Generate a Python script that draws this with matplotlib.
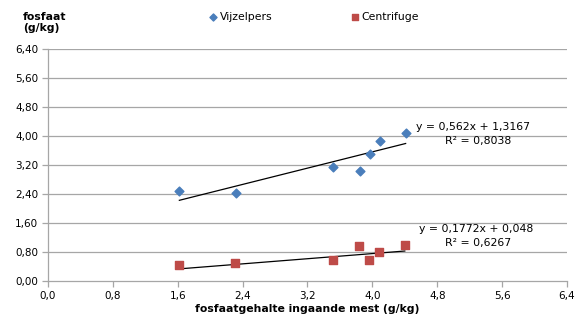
import numpy as np
import matplotlib.pyplot as plt

# data
vijzel_x = [1.62, 2.32, 3.51, 3.85, 3.97, 4.09, 4.41]
vijzel_y = [2.48, 2.43, 3.15, 3.03, 3.51, 3.87, 4.09]
centri_x = [1.61, 2.31, 3.51, 3.84, 3.96, 4.08, 4.40]
centri_y = [0.43, 0.50, 0.57, 0.96, 0.58, 0.81, 1.00]

# trendlines as printed on the chart
vijzel_fit = (0.562, 1.3167, 0.8038)
centri_fit = (0.1772, 0.048, 0.6267)

xticks = np.arange(0, 6.41, 0.8)
yticks = np.arange(0, 6.41, 0.8)

plt.rcParams['font.family'] = 'DejaVu Sans'
fig = plt.figure(figsize=(5.78, 3.21), dpi=100)
ax = fig.add_axes([0.083, 0.1246, 0.898, 0.7224])

grid_c = '#a6a6a6'
for yv in yticks[1:]:
    ax.axhline(yv, color=grid_c, lw=0.9, zorder=1)

ax.scatter(vijzel_x, vijzel_y, marker='D', s=20, color='#4a7ebb', zorder=3, label='Vijzelpers')
ax.scatter(centri_x, centri_y, marker='s', s=28, color='#be4b48', zorder=3, label='Centrifuge')

def fmt(v):
    return ('%g' % v).replace('.', ',')

for xs, (a, b, r2) in [(vijzel_x, vijzel_fit), (centri_x, centri_fit)]:
    xx = np.array([min(xs), max(xs)])
    ax.plot(xx, a * xx + b, color='black', lw=0.9, zorder=2)

fs = 7.8
ax.text(4.54, 4.24, 'y = %sx + %s' % (fmt(vijzel_fit[0]), fmt(vijzel_fit[1])), fontsize=fs, ha='left', va='center')
ax.text(4.89, 3.86, 'R² = %s' % fmt(vijzel_fit[2]), fontsize=fs, ha='left', va='center')
ax.text(4.57, 1.44, 'y = %sx + %s' % (fmt(centri_fit[0]), fmt(centri_fit[1])), fontsize=fs, ha='left', va='center')
ax.text(4.89, 1.06, 'R² = %s' % fmt(centri_fit[2]), fontsize=fs, ha='left', va='center')

ax.set_xlim(0, 6.4)
ax.set_ylim(0, 6.4)
ax.set_xticks(xticks)
ax.set_xticklabels([('%.1f' % v).replace('.', ',') for v in xticks], fontsize=7.5)
ax.set_yticks(yticks)
ax.set_yticklabels([('%.2f' % v).replace('.', ',') for v in yticks], fontsize=7.5)
ax.tick_params(axis='both', direction='out', length=4, width=0.9, color=grid_c, pad=3)

for s in ['top', 'right']:
    ax.spines[s].set_visible(False)
for s in ['left', 'bottom']:
    ax.spines[s].set_color(grid_c)
    ax.spines[s].set_linewidth(0.9)

ax.set_xlabel('fosfaatgehalte ingaande mest (g/kg)', fontsize=7.8, fontweight='bold', labelpad=2)
fig.text(0.04, 0.93, 'fosfaat\n(g/kg)', fontsize=7.8, fontweight='bold', ha='left', va='center', linespacing=1.1)

fig.legend(loc='center left', bbox_to_anchor=(0.35, 0.947), ncol=2, frameon=False,
           fontsize=7.8, handletextpad=0.1, columnspacing=7.1, markerscale=0.8,
           borderpad=0, handlelength=1.0)

fig.savefig('out.png', dpi=100)
